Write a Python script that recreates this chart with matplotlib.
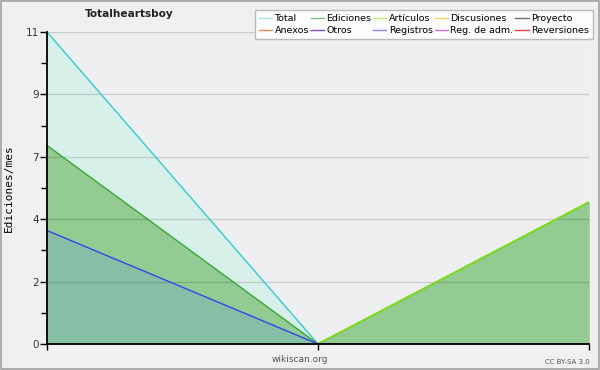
import numpy as np
import matplotlib
matplotlib.use("Agg")
import matplotlib.pyplot as plt
from matplotlib.lines import Line2D
from matplotlib.patches import Rectangle

# monthly edit counts (three months shown)
months = [0, 1, 2]
total = [11, 0, 5]
ediciones = [7, 0, 5]
articulos = [0, 0, 5]
registros = [4, 0, 0]

legend_labels = ["Total", "Ediciones", "Artículos", "Discusiones", "Proyecto",
                 "Anexos", "Otros", "Registros", "Reg. de adm.", "Reversiones"]
legend_colors = ["#a8e4e4", "#7cc47c", "#c4ee66", "#f2d266", "#707070",
                 "#f08a50", "#8a4fd8", "#8a8af0", "#d070e0", "#e04848"]

y_max = 11
y_ticks = [0, 2.2, 4.4, 6.6, 8.8, 11]
y_ticklabels = ["0", "2", "4", "7", "9", "11"]

fig = plt.figure(figsize=(6, 3.7), dpi=100, facecolor="#f0f0f0")
fig.patches.append(Rectangle((0.001, 0.002), 0.997, 0.996, transform=fig.transFigure,
                             fill=False, edgecolor="#a0a0a0", lw=1.2))
ax = fig.add_axes([47 / 600, 1 - 344 / 370, 542 / 600, 312 / 370])
ax.set_facecolor("#eeeff1")

# fills, largest first
ax.fill_between(months, total, color="#d8f0ea", lw=0)
ax.fill_between(months, ediciones, color="#93cb93", lw=0)
ax.fill_between(months, articulos, color="#93cb93", lw=0)
ax.fill_between(months, registros, color="#86bfa6", lw=0)

ax.plot(months, total, color="#33cccc", lw=1)
ax.plot(months, ediciones, color="#33aa33", lw=1)
ax.plot(months, articulos, color="#88dd11", lw=1.3)
ax.plot(months, registros, color="#3344ee", lw=1)

ax.set_xlim(0, 2)
ax.set_ylim(0, y_max)
ax.set_xticks(months)
ax.set_xticklabels([])
ax.set_yticks(y_ticks)
ax.set_yticklabels(y_ticklabels)
ax.set_yticks(np.arange(1.1, 11, 2.2), minor=True)
ax.tick_params(axis="y", which="major", length=5, width=1, labelsize=7.5,
               labelcolor="#333333", pad=1)
ax.tick_params(axis="y", which="minor", length=4, width=1)
ax.tick_params(axis="x", length=4, width=1)
ax.grid(axis="y", color="black", alpha=0.14, lw=1)
for s in ["top", "right"]:
    ax.spines[s].set_visible(False)
for s in ["left", "bottom"]:
    ax.spines[s].set_linewidth(1.3)

ax.set_ylabel("Ediciones/mes", family="DejaVu Sans Mono", fontsize=8, labelpad=8)

fig.text(129 / 600, 1 - 14 / 370, "Totalheartsboy", ha="center", va="center",
         fontsize=7.6, fontweight="bold", color="#222222")
fig.text(300 / 600, 1 - 360 / 370, "wikiscan.org", ha="center", va="center",
         fontsize=6.5, color="#555555")
fig.text(590 / 600, 1 - 362 / 370, "CC BY-SA 3.0", ha="right", va="center",
         fontsize=5, color="#555555")

# legend is filled column by column: reorder rows of 5 into columns
order = [0, 5, 1, 6, 2, 7, 3, 8, 4, 9]
handles = [Line2D([], [], color=legend_colors[i], lw=1) for i in order]
labels = [legend_labels[i] for i in order]
fig.legend(handles, labels, ncol=5, loc="upper right",
           bbox_to_anchor=(593 / 600, 1 - 10 / 370), fontsize=6.8,
           frameon=True, fancybox=False, edgecolor="#bbbbbb", facecolor="#fcfcfc",
           framealpha=1, handlelength=1.4, handletextpad=0.25, columnspacing=0.2,
           labelspacing=0.3, borderpad=0.45, borderaxespad=0)

fig.savefig("out.png", dpi=100, facecolor=fig.get_facecolor())
